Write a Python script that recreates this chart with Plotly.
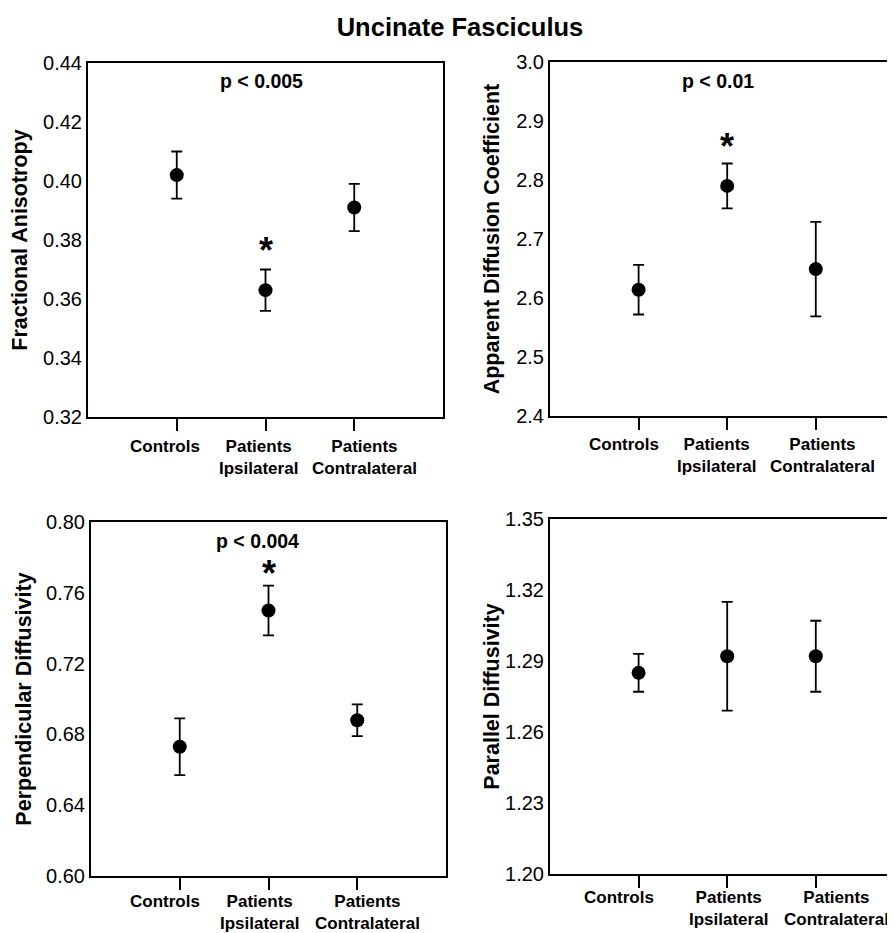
import plotly.graph_objects as go

# ---- data ----
categories = ["Controls", "Patients<br>Ipsilateral", "Patients<br>Contralateral"]
cat_pos = [1, 2, 3]

fa_mean = [0.402, 0.363, 0.391]
fa_err = [0.008, 0.007, 0.008]

adc_mean = [2.614, 2.790, 2.649]
adc_err = [0.042, 0.038, 0.080]

perp_mean = [0.673, 0.750, 0.688]
perp_err = [0.016, 0.014, 0.009]

par_mean = [1.285, 1.292, 1.292]
par_err = [0.008, 0.023, 0.015]

panel_titles = ["Fractional Anisotropy", "Apparent Diffusion Coefficient",
                "Perpendicular Diffusivity", "Parallel Diffusivity"]
p_texts = ["p < 0.005", "p < 0.01", "p < 0.004", None]
star_y = [0.3777, 2.864, 0.773, None]
p_y = [0.4332, 2.965, 0.788, None]
p_x = [1.95, 1.9, 1.88, None]

y_ranges = [[0.32, 0.44], [2.4, 3.0], [0.60, 0.80], [1.20, 1.35]]
y_dticks = [0.02, 0.1, 0.04, 0.03]
y_formats = [".2f", ".1f", ".2f", ".2f"]

# ---- layout / style ----
# the page body adds an 8px margin, so the figure is sized to fit the window
W, H = 887, 925
FONT = "Liberation Sans, Arial, Helvetica, sans-serif"

# panel boxes in figure pixels: (left, right, top, bottom)
boxes = [(80, 435, 55, 409), (542, 887, 54, 408), (83, 438, 514, 868), (542, 887, 511, 866)]
x_ranges = [[0, 4], [0, 3.894], [0, 4], [0, 3.894]]
title_standoff = [12, 10.5, 9, 0]
# horizontal nudges (in x units) of category labels, and vertical shift (px)
label_dx = [[-0.13, -0.08, 0.12], [-0.16, -0.12, 0.07], [-0.17, -0.10, 0.11], [-0.22, 0.01, 0.23]]
label_dy = [-18, -17, -14, -12]

means = [fa_mean, adc_mean, perp_mean, par_mean]
errs = [fa_err, adc_err, perp_err, par_err]

fig = go.Figure()
annotations = []
layout = dict(width=W, height=H, margin=dict(l=0, r=0, t=0, b=0),
              plot_bgcolor="white", paper_bgcolor="white", showlegend=False,
              font=dict(family=FONT, color="black"))

for i in range(4):
    xa = "x" if i == 0 else f"x{i+1}"
    ya = "y" if i == 0 else f"y{i+1}"
    xkey = "xaxis" if i == 0 else f"xaxis{i+1}"
    ykey = "yaxis" if i == 0 else f"yaxis{i+1}"
    l, r, t, b = boxes[i]
    right_panel = (i % 2 == 1)
    fig.add_trace(go.Scatter(
        x=cat_pos, y=means[i], mode="markers", xaxis=xa, yaxis=ya,
        marker=dict(size=14, color="black"),
        error_y=dict(type="data", array=errs[i], visible=True, color="black",
                     thickness=1.8, width=5.5)))
    layout[xkey] = dict(domain=[l / W, r / W], range=x_ranges[i], anchor=ya,
                        tickmode="array", tickvals=cat_pos, ticktext=categories,
                        showticklabels=False,
                        ticks="outside", ticklen=12, tickwidth=2, tickcolor="black",
                        showline=True, linecolor="black", linewidth=2, mirror=True,
                        showgrid=False, zeroline=False, automargin=False,
                        fixedrange=True)
    layout[ykey] = dict(domain=[1 - b / H, 1 - t / H], range=y_ranges[i], anchor=xa,
                        tick0=y_ranges[i][0], dtick=y_dticks[i], tickformat=y_formats[i],
                        ticks="", showline=True, linecolor="black", linewidth=2,
                        mirror=(not right_panel),
                        showgrid=False, zeroline=False, automargin=False,
                        tickfont=dict(family=FONT, size=20, color="black"),
                        title=dict(text=panel_titles[i], standoff=title_standoff[i],
                                   font=dict(family=FONT, size=21.5, color="black", weight="bold")),
                        fixedrange=True)
    # category labels under the axis
    for k, (pos, txt) in enumerate(zip(cat_pos, categories)):
        annotations.append(dict(x=pos + label_dx[i][k], y=0, xref=xa, yref=f"{ya} domain",
                                text="<b>" + txt.replace("<br>", "</b><br><b>") + "</b>",
                                showarrow=False, align="center",
                                font=dict(family=FONT, size=17, color="black"),
                                xanchor="center", yanchor="top", yshift=label_dy[i]))
    if p_texts[i]:
        annotations.append(dict(x=p_x[i], y=p_y[i], xref=xa, yref=ya, text="<b>" + p_texts[i] + "</b>",
                                showarrow=False, font=dict(family=FONT, size=19.5, color="black"),
                                xanchor="center", yanchor="middle", yshift=2))
        annotations.append(dict(x=2, y=star_y[i], xref=xa, yref=ya, text="<b>*</b>",
                                showarrow=False, font=dict(family=FONT, size=36, color="black"),
                                xanchor="center", yanchor="middle", yshift=-4))

layout["annotations"] = annotations
layout["title"] = dict(text="<b>Uncinate Fasciculus</b>", x=452 / W, xanchor="center",
                       y=1 - 19 / H, yanchor="middle",
                       font=dict(family=FONT, size=25.5, color="black"))
fig.update_layout(**layout)
fig.write_html("out.html")
